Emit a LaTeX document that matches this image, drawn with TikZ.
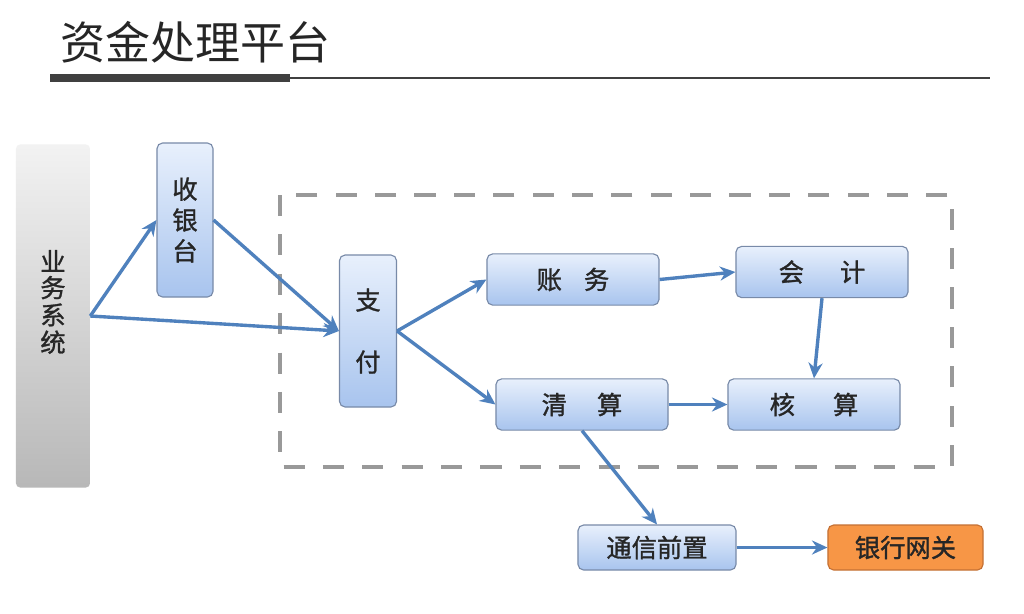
\documentclass[tikz,border=0pt]{standalone}
\usepackage{fontspec}
\newfontfamily\cjk{Noto Sans CJK SC}
\newfontfamily\cjkb[FakeBold=1.2]{Noto Sans CJK SC}
\usetikzlibrary{arrows.meta}
\definecolor{boxtop}{RGB}{232,240,252}
\definecolor{boxbot}{RGB}{168,196,238}
\definecolor{boxline}{RGB}{120,138,168}
\definecolor{flow}{RGB}{79,129,189}
\definecolor{gwfill}{RGB}{247,150,70}
\definecolor{gwline}{RGB}{196,112,52}
\begin{document}
\begin{tikzpicture}[x=0.025cm,y=-0.025cm,
        blk/.style={draw=boxline,line width=0.8pt,rounded corners=4pt,top color=boxtop,bottom color=boxbot,
            inner sep=0pt,font=\cjkb\fontsize{18}{22}\selectfont,align=center,text=black!85},
        wide/.style={blk,minimum width=4.3cm,minimum height=1.28cm},
        flowarr/.style={draw=flow,line width=2.4pt,-{Stealth[length=11pt,width=10pt]}}]
        %% canvas
        \useasboundingbox[fill=white] (0,0) rectangle (1024,613);
        %% title
        \node[anchor=west,font=\cjk\fontsize{32}{36}\selectfont,text=black!85] (title) at (56,42) {资金处理平台};
        \draw[line width=5pt,black!75] (50,78) -- (290,78);
        \draw[line width=1.4pt,black!75] (290,78) -- (990,78);
        %% scope of the platform
        \draw[gray!80,line width=3pt,dash pattern=on 15pt off 13pt] (280,195) rectangle (952,467);
        %% boxes
        \node[rounded corners=3pt,top color=black!5,bottom color=black!28,minimum width=1.85cm,minimum height=8.575cm,
            inner sep=0pt,font=\cjkb\fontsize{18}{18}\selectfont,text=black!85] (biz) at (53,316)
            {\raisebox{0.75cm}{\shortstack{业\\务\\系\\统}}};
        \node[blk,minimum width=1.4cm,minimum height=3.85cm] (cash) at (185,220) {收\\银\\台};
        \node[blk,minimum width=1.425cm,minimum height=3.8cm] (pay) at (368,331) {支\\[22pt]付};
        \node[wide] (acct) at (573,279.5) {账\hspace{0.55cm}务};
        \node[wide] (kj) at (822,272) {会\hspace{0.9cm}计};
        \node[wide] (clr) at (582,404.5) {清\hspace{0.75cm}算};
        \node[wide] (hs) at (814,404.5) {核\hspace{0.95cm}算};
        \node[blk,minimum width=3.95cm,minimum height=1.125cm] (comm) at (657,547.5) {通信前置};
        \node[blk,draw=gwline,top color=gwfill,bottom color=gwfill,minimum width=3.875cm,minimum height=1.125cm] (bank) at (905.5,547.5) {银行网关};
        %% flows
        \draw[flowarr] (biz.east) -- (cash.west);
        \draw[flowarr] (biz.east) -- (pay.west);
        \draw[flowarr] (cash.east) -- (pay.west);
        \draw[flowarr] (pay.east) -- (acct.west);
        \draw[flowarr] (pay.east) -- (clr.west);
        \draw[flowarr] (acct.east) -- (kj.west);
        \draw[flowarr] (kj.south) -- (hs.north);
        \draw[flowarr] (clr.east) -- (hs.west);
        \draw[flowarr] (clr.south) -- (comm.north);
        \draw[flowarr] (comm.east) -- (bank.west);
    \end{tikzpicture}
\end{document}
